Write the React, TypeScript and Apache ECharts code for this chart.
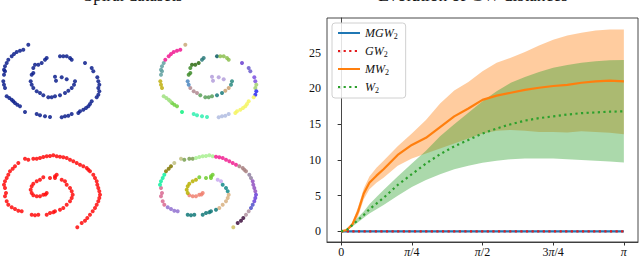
import React, { useEffect, useRef } from "react";
import * as echarts from "echarts";

// ---------- right panel data (x in units of pi) ----------
const T = [0, 0.02, 0.04, 0.06, 0.08, 0.1, 0.125, 0.15, 0.2, 0.25, 0.3, 0.35, 0.4, 0.45, 0.5, 0.55, 0.6, 0.65, 0.7, 0.75, 0.8, 0.85, 0.9, 0.95, 1.0];
const mgwMean = [0, 0, 0, 0, 0, 0, 0, 0, 0, 0, 0, 0, 0, 0, 0, 0, 0, 0, 0, 0, 0, 0, 0, 0, 0];
const gwMean = [0, 0, 0, 0, 0, 0, 0, 0, 0, 0, 0, 0, 0, 0, 0, 0, 0, 0, 0, 0, 0, 0, 0, 0, 0];
const mwMean = [0, 0.2, 1.0, 2.8, 5.3, 6.8, 7.8, 8.7, 10.7, 12.1, 13.1, 14.6, 16.1, 17.2, 18.4, 19.0, 19.4, 19.8, 20.1, 20.35, 20.5, 20.8, 21.0, 21.1, 21.0];
const mwUpper = [0, 0.3, 1.3, 3.4, 6.0, 7.7, 8.9, 9.9, 11.9, 13.7, 15.6, 17.9, 19.7, 20.9, 22.4, 23.6, 24.3, 25.1, 26.0, 26.8, 27.4, 27.8, 28.1, 28.25, 28.25];
const mwLower = [0, 0.1, 0.7, 2.1, 4.5, 5.9, 6.8, 7.5, 9.2, 10.2, 10.9, 11.6, 12.3, 13.0, 13.7, 14.1, 14.2, 14.1, 13.9, 13.9, 13.85, 14.0, 13.9, 13.8, 13.6];
const wMean = [0, 0.2, 0.9, 1.6, 2.3, 3.1, 3.9, 4.7, 6.5, 8.0, 9.5, 10.8, 11.9, 12.8, 13.7, 14.4, 15.0, 15.5, 15.85, 16.1, 16.35, 16.55, 16.65, 16.75, 16.8];
const wUpper = [0, 0.25, 1.1, 2.0, 2.8, 3.8, 4.8, 5.8, 7.7, 9.5, 11.3, 13.3, 15.0, 16.6, 18.2, 19.6, 20.8, 21.6, 22.3, 22.9, 23.3, 23.6, 23.8, 23.95, 24.0];
const wLower = [0, 0.15, 0.7, 1.3, 1.9, 2.5, 3.1, 3.7, 5.0, 6.2, 7.2, 8.0, 8.7, 9.2, 9.6, 9.9, 10.1, 10.2, 10.2, 10.2, 10.1, 10.0, 9.9, 9.8, 9.65];

const yTicks = [0, 5, 10, 15, 20, 25];
const xTickPi = [0, 0.25, 0.5, 0.75, 1];
const xTickLabels = ["0", "{i|π}/4", "{i|π}/2", "3{i|π}/4", "{i|π}"];
const legendNames = ["MGW2", "GW2", "MW2", "W2"];
const legendMain = ["MGW", "GW", "MW", "W"];

// ---------- spiral data (ordered from centre outward) ----------
const topSpiral = [
  [55, 76.7], [56, 80.7], [61.7, 77.3], [66.7, 79.3],
  [75, 81.3], [74, 84.7], [71.7, 88], [68.3, 90.7], [65, 93], [60, 95.3],
  [55, 96.3], [51.7, 97.3], [48.3, 97.3], [43.3, 95.3],
  [40, 93], [36.7, 91.3], [33.3, 88], [31.7, 84.7], [30.7, 81.3],
  [31.7, 74.7], [33.3, 73], [33.3, 68], [35, 64.7], [38.3, 64.7], [41.7, 63],
  [45, 59.7], [46.7, 58], [60, 56.3], [63.3, 56.3], [66.7, 56.3], [70, 58], [71.7, 59.7],
  [85, 63], [91.7, 68], [93.3, 71.3], [97.3, 77.3], [98.3, 81.3], [99.3, 84.7], [98.3, 88],
  [99.3, 91.3], [98.3, 94.7], [96.7, 97.3], [91.7, 101.3], [90, 104], [88.3, 106.3],
  [86, 108], [83.3, 109.7], [80, 111.3], [78.3, 113],
  [71.7, 114], [68.3, 115.7], [65, 116.3], [61.7, 117.3],
  [50, 117], [45, 116.3], [40, 115.3], [36.7, 114],
  [25, 112],
  [20, 106.3], [17.3, 104.7], [15, 103],
  [13.3, 101.3], [11.7, 99.7], [9.3, 98], [6.7, 96.3],
  [5, 88], [4, 84.7], [3.3, 81.3],
  [4, 74.7], [5, 71.3], [4, 69.7], [5, 66.3], [6.7, 63],
  [8.3, 59.7], [11.7, 56.3], [14, 54], [16.7, 52], [20, 50.7], [23.3, 49.7],
  [28.3, 44.7],
];
const topClusterSizes = [4, 2, 2, 2, 4, 3, 2, 3, 3, 2, 1, 4, 1, 2, 2, 2, 2, 8, 4, 4, 1, 3, 4, 3, 5, 6, 1];
const topClusterColors = [
  "#b39ddb", "#2a8a80", "#c8a070", "#1a7a7a", "#5aa05a", "#b08890", "#4a86c0", "#3d8b2a",
  "#2d6a10", "#2a7a7a", "#0a5a60", "#8cbf50", "#6a40d0", "#6a5acd", "#7b50e0", "#a0d070",
  "#2828f0", "#f4f460", "#b0bce0", "#30f0b0", "#10f080", "#70d040", "#a0e080", "#c0b010",
  "#60a0a0", "#f01890", "#c8a878",
];

const bottomSpiral = [
  [46.7, 193], [45.5, 194.5], [43.3, 194.7], [40, 196.3], [36.7, 196.3], [33.3, 195.3],
  [31.7, 193], [30.7, 189.7], [31.7, 186.3], [33.3, 183.7], [36.7, 181.3], [40, 179.7],
  [43.3, 177.3], [50, 178], [55, 178], [55, 176.3], [56.7, 174.7],
  [61.7, 179.7], [65, 181.3],
  [66.7, 184.7], [70, 188], [71.7, 191.3],
  [72.7, 194.7], [71.7, 198], [70, 201.3], [66.7, 204.7], [63.3, 208],
  [60, 209.7], [55, 211.3], [53.3, 212.3], [50, 213], [46.7, 214.7], [38.3, 214.7], [35, 215.3], [31.7, 214.7],
  [21.7, 211.3], [18.3, 210.7], [15, 209], [11.7, 207.3],
  [8.3, 204.7], [6.7, 201.3], [5, 196.3], [6, 193], [5, 188],
  [4, 184.7], [5, 181.3], [6.7, 178], [8.3, 174.7],
  [10, 171.3], [12.7, 168.7], [15, 166.3],
  [18.3, 163], [25, 158.7],
  [28.3, 159.7], [33.3, 158.7], [36.7, 158.7],
  [40, 158], [43.3, 157], [46.7, 156.3], [50, 156], [53.3, 155.3], [56.7, 156.3],
  [60, 156.7], [63.3, 157.3], [66.7, 158], [70, 159.7], [73.3, 161.3], [76.7, 163], [80, 164.7],
  [83.3, 166.3], [86.7, 168], [88.3, 169.7], [90, 171.3],
  [93.3, 174.7], [95, 178],
  [96.7, 181.3], [97.3, 184.7], [98.3, 188], [99.3, 191.3],
  [100, 194.7], [99.3, 198], [98.3, 201.3],
  [96.7, 204.7], [95, 208],
  [92.7, 211.3], [90, 214.7],
  [87.3, 218], [85, 220.7], [81.7, 223],
  [77.3, 227.3],
];
const bottomClusterSizes = [6, 6, 5, 2, 3, 5, 8, 4, 5, 4, 3, 2, 3, 6, 7, 4, 2, 4, 3, 2, 2, 3, 1];
const bottomClusterColors = [
  "#f08070", "#b8b000", "#70cc30", "#c8a8f0", "#108888", "#d8b080", "#107878", "#9070d0",
  "#d86890", "#10f0a0", "#807800", "#c0c080", "#78a050", "#a8f090", "#f02090", "#a88080",
  "#9080a0", "#9050c0", "#6840d8", "#5050c8", "#b090a0", "#401040", "#d0c060",
];

const SERIF = "'Liberation Serif', 'DejaVu Serif', serif";

function colorize(points: number[][], sizes: number[], colors: string[]) {
  const out: any[] = [];
  let k = 0;
  sizes.forEach((n, ci) => {
    for (let j = 0; j < n && k < points.length; j++, k++) {
      out.push({ value: points[k], itemStyle: { color: colors[ci] } });
    }
  });
  while (k < points.length) {
    out.push({ value: points[k], itemStyle: { color: colors[colors.length - 1] } });
    k++;
  }
  return out;
}

export default function App() {
  const ref = useRef<HTMLDivElement>(null);
  useEffect(() => {
    if (!ref.current) return;
    const chart = echarts.init(ref.current, undefined, { renderer: "svg" });
    const xs = T.map((t) => t * Math.PI);
    const pairs = (ys: number[]) => xs.map((x, i) => [x, ys[i]]);

    const panels = [
      { left: 0, top: 40, ymin: 40, ymax: 125 },
      { left: 157, top: 40, ymin: 40, ymax: 125 },
      { left: 0, top: 150, ymin: 150, ymax: 235 },
      { left: 156, top: 150, ymin: 150, ymax: 235 },
    ];
    const grids: any[] = panels.map((p) => ({ left: p.left, top: p.top, width: 110, height: 85 }));
    grids.push({
      left: 327, right: 2, top: 18, bottom: 14, show: true,
      borderColor: "#333", borderWidth: 0.9, backgroundColor: "transparent",
    });
    const hiddenAxis = (min: number, max: number, inverse: boolean) => ({
      type: "value", min, max, inverse, show: false, splitLine: { show: false },
    });
    const xAxes: any[] = panels.map((p, i) => ({ ...hiddenAxis(0, 110, false), gridIndex: i }));
    const yAxes: any[] = panels.map((p, i) => ({ ...hiddenAxis(p.ymin, p.ymax, true), gridIndex: i }));
    xAxes.push({
      type: "value", gridIndex: 4, min: -0.05 * Math.PI, max: 1.05 * Math.PI,
      splitLine: { show: false },
      axisLine: { show: true, onZero: false, lineStyle: { color: "#333", width: 0.9 } },
      axisTick: { show: true, length: 3.5, lineStyle: { color: "#333" }, customValues: xTickPi.map((t) => t * Math.PI) },
      axisLabel: {
        show: true, margin: 4, color: "#111", fontFamily: SERIF, fontSize: 12,
        customValues: xTickPi.map((t) => t * Math.PI),
        formatter: (v: number) => {
          let best = 0;
          xTickPi.forEach((t, i) => { if (Math.abs(t * Math.PI - v) < Math.abs(xTickPi[best] * Math.PI - v)) best = i; });
          return xTickLabels[best];
        },
        rich: { i: { fontStyle: "italic", fontFamily: SERIF, fontSize: 12, color: "#111" } },
      },
    });
    yAxes.push({
      type: "value", gridIndex: 4, min: -1.48, max: 29.86,
      splitLine: { show: false },
      axisLine: { show: true, lineStyle: { color: "#333", width: 0.9 } },
      axisTick: { show: true, length: 3.5, lineStyle: { color: "#333" }, customValues: yTicks },
      axisLabel: { show: true, margin: 6, color: "#111", fontFamily: SERIF, fontSize: 12, customValues: yTicks },
    });

    const series: any[] = [];
    const spiralStyle = { symbolSize: 4, itemStyle: { opacity: 0.85 } };
    series.push({ type: "scatter", xAxisIndex: 0, yAxisIndex: 0, data: topSpiral, itemStyle: { color: "#0c1f8c", opacity: 0.85 }, symbolSize: 4 });
    series.push({ type: "scatter", xAxisIndex: 1, yAxisIndex: 1, data: colorize(topSpiral, topClusterSizes, topClusterColors), ...spiralStyle });
    series.push({ type: "scatter", xAxisIndex: 2, yAxisIndex: 2, data: bottomSpiral, itemStyle: { color: "#ff0a0a", opacity: 0.85 }, symbolSize: 4 });
    series.push({ type: "scatter", xAxisIndex: 3, yAxisIndex: 3, data: colorize(bottomSpiral, bottomClusterSizes, bottomClusterColors), ...spiralStyle });

    const band = (name: string, lo: number[], hi: number[], color: string) => ({
      name, type: "custom", xAxisIndex: 4, yAxisIndex: 4, data: [[0, 0]], silent: true, z: 1, clip: true,
      renderItem: (params: any, api: any) => {
        const pts: number[][] = [];
        for (let i = 0; i < xs.length; i++) pts.push(api.coord([xs[i], hi[i]]));
        for (let i = xs.length - 1; i >= 0; i--) pts.push(api.coord([xs[i], lo[i]]));
        return { type: "polygon", shape: { points: pts }, style: { fill: color, stroke: "none" } };
      },
    });
    series.push(band("mwBand", mwLower, mwUpper, "rgba(255,127,14,0.4)"));
    series.push(band("wBand", wLower, wUpper, "rgba(44,160,44,0.4)"));

    series.push({ name: "MGW2", type: "line", xAxisIndex: 4, yAxisIndex: 4, data: pairs(mgwMean), symbol: "none", lineStyle: { color: "#1f77b4", width: 2.3 }, itemStyle: { color: "#1f77b4" }, z: 3 });
    series.push({ name: "GW2", type: "line", xAxisIndex: 4, yAxisIndex: 4, data: pairs(gwMean), symbol: "none", lineStyle: { color: "#e41a1c", width: 2.2, type: [2.2, 3.4], cap: "butt" }, itemStyle: { color: "#e41a1c" }, z: 4 });
    series.push({ name: "MW2", type: "line", xAxisIndex: 4, yAxisIndex: 4, data: pairs(mwMean), symbol: "none", lineStyle: { color: "#ff7f0e", width: 2.2 }, itemStyle: { color: "#ff7f0e" }, z: 5 });
    series.push({ name: "W2", type: "line", xAxisIndex: 4, yAxisIndex: 4, data: pairs(wMean), symbol: "none", lineStyle: { color: "#2ca02c", width: 2.2, type: [2.2, 3.4], cap: "butt" }, itemStyle: { color: "#2ca02c" }, z: 6 });

    chart.setOption({
      animation: false,
      backgroundColor: "#fff",
      grid: grids,
      xAxis: xAxes,
      yAxis: yAxes,
      legend: {
        data: legendNames,
        orient: "vertical",
        left: 332,
        top: 23,
        itemWidth: 22,
        itemHeight: 10,
        itemGap: 5,
        padding: [4, 8, 4, 5],
        borderColor: "#d0d0d0",
        borderWidth: 1,
        borderRadius: 3,
        backgroundColor: "rgba(255,255,255,0.85)",
        itemStyle: { opacity: 0 },
        formatter: (name: string) => `{m|${legendMain[legendNames.indexOf(name)]}}{s|2}`,
        textStyle: {
          rich: {
            m: { fontFamily: SERIF, fontStyle: "italic", fontSize: 12, color: "#111" },
            s: { fontFamily: SERIF, fontSize: 8, color: "#111", verticalAlign: "bottom", padding: [6, 0, 0, 0] },
          },
        },
      },
      graphic: [
        { type: "text", x: 133, y: -13, style: { text: "Spiral datasets", font: `17px ${SERIF}`, fill: "#111", textAlign: "center", textVerticalAlign: "top" } },
        { type: "text", x: 473, y: -13.8, style: { text: "Evolution of GW distances", font: `17.5px ${SERIF}`, fill: "#111", textAlign: "center", textVerticalAlign: "top" } },
      ],
      series,
    });
    return () => chart.dispose();
  }, []);
  return <div ref={ref} style={{ position: "fixed", left: 0, top: 0, width: 640, height: 258 }} />;
}
